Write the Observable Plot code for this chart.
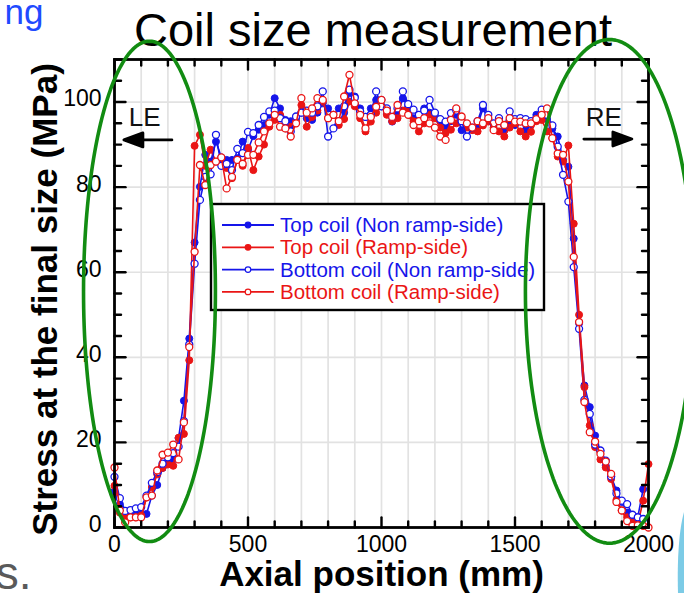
<!DOCTYPE html>
<html>
<head>
<meta charset="utf-8">
<script src="https://cdn.jsdelivr.net/npm/d3@7"></script>
<script src="https://cdn.jsdelivr.net/npm/@observablehq/plot@0.6"></script>
<style>
  html, body { margin: 0; padding: 0; background: #fff; }
  #chart { position: relative; width: 684px; height: 593px; overflow: hidden; }
</style>
</head>
<body>
<div id="chart"></div>
<script>
// Axial measurement positions along the coil (mm)
const axialPositions = [
  0, 20, 40, 60, 80, 100, 120, 140, 160, 180,
  200, 220, 240, 260, 280, 300, 320, 340, 360, 380,
  400, 420, 440, 460, 480, 500, 520, 540, 560, 580,
  600, 620, 640, 660, 680, 700, 720, 740, 760, 780,
  800, 820, 840, 860, 880, 900, 920, 940, 960, 980,
  1000, 1020, 1040, 1060, 1080, 1100, 1120, 1140, 1160, 1180,
  1200, 1220, 1240, 1260, 1280, 1300, 1320, 1340, 1360, 1380,
  1400, 1420, 1440, 1460, 1480, 1500, 1520, 1540, 1560, 1580,
  1600, 1620, 1640, 1660, 1680, 1700, 1720, 1740, 1760, 1780,
  1800, 1820, 1840, 1860, 1880, 1900, 1920, 1940, 1960, 1980,
  2000
];

// Stress at the final size (MPa)
const topNonRamp = [
  8.5, 5.5, 3.5, 3.0, 3.0, 3.2, 3.2, 7.5, 10.0, 14.0,
  15.5, 16.0, 21.0, 29.8, 44.4, 67.0, 80.1, 87.6, 86.0, 90.7,
  87.0, 86.4, 86.4, 86.8, 90.7, 88.8, 92.0, 93.5, 94.6, 97.0,
  100.9, 98.5, 95.8, 95.5, 96.2, 97.5, 96.2, 95.8, 97.5, 99.7,
  98.5, 97.0, 98.5, 97.5, 102.1, 101.3, 98.5, 96.5, 98.5, 100.5,
  100.5, 97.4, 95.4, 97.0, 100.9, 99.0, 96.2, 97.0, 98.5, 97.5,
  96.8, 95.5, 94.2, 95.5, 97.0, 93.4, 94.5, 93.5, 94.6, 98.5,
  96.0, 94.8, 95.5, 93.4, 95.0, 94.6, 95.5, 93.4, 94.8, 97.0,
  97.2, 96.0, 93.8, 91.9, 86.4, 84.8, 67.9, 48.0, 33.4, 28.3,
  21.6, 18.0, 14.5, 12.0, 8.7, 6.0, 3.5, 2.0, 2.5, 9.0,
  null
];
const topRamp = [
  9.8, 3.5, 2.4, 2.4, 2.4, 2.8, 7.1, 9.5, 12.5, 14.0,
  14.8, 14.5, 21.1, 22.0, 39.3, 89.7, 92.3, 85.0, 88.8, 86.0,
  86.8, 84.5, 82.1, 86.4, 85.0, 89.2, 84.0, 87.2, 90.0, 94.2,
  95.8, 97.0, 93.8, 94.2, 95.5, 99.3, 94.2, 96.5, 98.0, 100.1,
  96.2, 97.0, 94.6, 96.0, 100.1, 99.0, 96.2, 93.1, 95.4, 97.5,
  99.0, 97.0, 95.5, 96.2, 98.0, 98.5, 95.5, 93.1, 95.0, 97.0,
  96.2, 94.0, 92.7, 93.5, 95.0, 96.2, 94.0, 93.4, 93.1, 94.5,
  95.4, 94.0, 93.1, 91.9, 94.0, 95.0, 93.1, 91.9, 93.0, 95.5,
  95.8, 93.1, 91.5, 87.2, 86.0, 89.8, 71.4, 50.0, 33.0, 24.0,
  18.9, 16.0, 14.1, 11.4, 6.5, 4.0, 2.4, 1.5, 0.8, 6.3,
  14.9
];
const bottomNonRamp = [
  11.9, 6.9, 3.9, 4.1, 4.5, 4.8, 7.5, 10.5, 13.0, 15.0,
  16.5, 17.5, 19.0, 25.0, 43.0, 62.0, 77.0, 82.4, 83.0, 92.3,
  85.0, 85.5, 84.0, 89.0, 88.0, 93.0, 92.7, 94.6, 96.5, 97.8,
  98.0, 96.2, 95.5, 93.1, 96.6, 97.5, 98.0, 97.5, 99.0, 102.5,
  91.9, 93.8, 97.0, 99.0, 102.9, 101.0, 97.8, 96.5, 97.0, 102.5,
  99.0, 98.5, 96.5, 98.5, 102.5, 99.5, 98.2, 97.0, 98.0, 100.5,
  97.5, 96.0, 95.4, 97.4, 98.0, 95.5, 91.9, 94.0, 95.5, 99.3,
  97.0, 95.0, 96.2, 94.5, 97.8, 96.0, 96.2, 96.0, 95.5, 96.2,
  98.2, 97.0, 94.5, 89.5, 82.9, 76.6, 61.2, 46.7, 30.0, 26.7,
  19.5, 18.1, 15.7, 12.0, 8.0, 6.3, 5.5, 3.0, 2.4, 2.0,
  null
];
const bottomRamp = [
  14.1, 4.0, 1.2, 2.4, 2.4, 2.4, 7.1, 7.5, 13.4, 17.1,
  17.6, 19.5, 16.0, 24.7, 42.4, 64.8, 85.2, 80.5, 85.2, 86.0,
  87.0, 79.7, 82.4, 86.4, 85.5, 87.6, 87.6, 90.5, 93.1, 95.0,
  97.0, 94.2, 93.8, 91.9, 95.0, 100.9, 97.5, 98.5, 100.9, 100.5,
  96.2, 97.0, 95.5, 101.3, 106.4, 99.7, 97.0, 93.8, 96.5, 98.9,
  100.5, 98.0, 96.5, 99.3, 97.5, 97.0, 94.6, 95.5, 96.2, 95.0,
  94.0, 91.9, 91.1, 95.8, 98.5, 96.6, 95.0, 94.0, 95.5, 95.0,
  96.2, 93.4, 95.5, 94.6, 96.2, 95.4, 95.4, 95.0, 95.0, 96.0,
  97.0, 98.5, 91.5, 87.9, 87.6, 81.3, 63.6, 48.3, 29.5, 22.4,
  20.2, 17.3, 15.5, 12.6, 6.0, 4.0, 1.5, 0.4, 0.5, 0.4,
  0.0
];

const seriesNames = [
  "Top coil (Non ramp-side)",
  "Top coil (Ramp-side)",
  "Bottom coil (Non ramp-side)",
  "Bottom coil (Ramp-side)"
];

// Axis ticks and labels
const xTickLabels = [0, 500, 1000, 1500, 2000];
const yTickLabels = [0, 20, 40, 60, 80, 100];
const xTitle = "Axial position (mm)";
const yTitle = "Stress at the final size (MPa)";
const chartTitle = "Coil size measurement";

// Coil-end markers and highlighted end regions (data units)
const endMarks = [
  {label: "LE", textX: 113, textY: 96.3, tailX: 215, tailY: 91.1, rotate: -90},
  {label: "RE", textX: 1833, textY: 96.3, tailX: 1758, tailY: 91.3, rotate: 90}
];
const endRegions = [
  {cx: 131, cy: 55.5, rx: 247, ry: 58.8},
  {cx: 1854, cy: 55.5, rx: 315, ry: 59.2}
];

// ---- styling ----
const BLUE = "#1515ea";
const RED = "#ea1515";
const GREEN = "#128c12";
const FONT = "'Liberation Sans', Arial, Helvetica, sans-serif";

const series = [
  {name: seriesNames[0], values: topNonRamp, color: BLUE, filled: true},
  {name: seriesNames[1], values: topRamp, color: RED, filled: true},
  {name: seriesNames[2], values: bottomNonRamp, color: BLUE, filled: false},
  {name: seriesNames[3], values: bottomRamp, color: RED, filled: false}
];
const rowsOf = (s) => axialPositions
  .map((x, i) => ({x, y: s.values[i]}))
  .filter((d) => d.y != null);

// Tick positions
const xTicksMinor = d3.range(0, 2001, 100).filter((v) => v % 500 !== 0);
const xTicksMajor = xTickLabels;
const yTicksMinor = d3.range(0, 111, 5).filter((v) => v % 20 !== 0);
const yTicksMajor = d3.range(0, 111, 20);
const xGrid = d3.range(100, 2000, 100);
const yGrid = d3.range(20, 110, 20);

// Inward tick: a straight segment along the vector direction
const tickShape = {draw(ctx, l) { ctx.moveTo(0, 0); ctx.lineTo(0, -l); }};
// Arrow with solid triangular head
const arrowShape = {draw(ctx, l) {
  const hl = 19, hw = 7;
  ctx.moveTo(0, 0); ctx.lineTo(0, -l + hl);
  ctx.moveTo(0, -l); ctx.lineTo(-hw, -l + hl); ctx.lineTo(hw, -l + hl); ctx.closePath();
}};

function ticks(values, x, y, rotate, length) {
  return Plot.vector(values, {
    x: x === null ? (d) => d : () => x,
    y: y === null ? (d) => d : () => y,
    rotate, length, anchor: "start", shape: tickShape,
    stroke: "black", strokeWidth: 2.4
  });
}

// Ellipse outlines for the end regions
const ellipsePoints = endRegions.flatMap((e, k) =>
  d3.range(0, 361, 2).map((a) => ({
    k,
    x: e.cx + e.rx * Math.cos(a * Math.PI / 180),
    y: e.cy + e.ry * Math.sin(a * Math.PI / 180)
  }))
);

// Legend drawn inside the frame
function legendMark() {
  const g = d3.create("svg:g");
  const x0 = 211, y0 = 204, w = 333, h = 106;
  g.append("rect").attr("x", x0).attr("y", y0).attr("width", w).attr("height", h)
    .attr("fill", "white").attr("stroke", "black").attr("stroke-width", 2.4);
  series.forEach((s, i) => {
    const yy = 225 + i * 22.3;
    g.append("line").attr("x1", 222).attr("x2", 274).attr("y1", yy).attr("y2", yy)
      .attr("stroke", s.color).attr("stroke-width", 1.8);
    g.append("circle").attr("cx", 248).attr("cy", yy).attr("r", 2.8)
      .attr("fill", s.filled ? s.color : "white").attr("stroke", s.color).attr("stroke-width", 1.2);
    g.append("text").attr("x", 280).attr("y", yy + 7)
      .attr("text-anchor", "start")
      .attr("fill", s.color).attr("font-size", 20.5).attr("font-family", FONT)
      .text(s.name);
  });
  return g.node();
}

// Slide fragments around the chart
function slideFragments() {
  const g = d3.create("svg:g");
  g.append("path")
    .attr("d", "M684,512 C679,530 677,560 678,593 L684,593 Z")
    .attr("fill", "#7ccbe6");
  return g.node();
}

const seriesMarks = series.flatMap((s) => {
  const rows = rowsOf(s);
  return [
    Plot.line(rows, {x: "x", y: "y", stroke: s.color, strokeWidth: 1.6}),
    Plot.dot(rows, {x: "x", y: "y", r: 3.5,
      fill: s.filled ? s.color : "white", stroke: s.color, strokeWidth: s.filled ? 1 : 1.3})
  ];
});

const chart = Plot.plot({
  width: 684,
  height: 593,
  marginLeft: 114,
  marginRight: 36,
  marginTop: 59,
  marginBottom: 66,
  x: {domain: [0, 2000]},
  y: {domain: [0, 110]},
  style: {fontFamily: FONT, color: "black", background: "white", overflow: "visible"},
  marks: [
    Plot.ruleX(xGrid, {stroke: "#e2e2e2", strokeWidth: 1.7}),
    Plot.ruleY(yGrid, {stroke: "#e2e2e2", strokeWidth: 1.7}),
    legendMark,
    ...seriesMarks,
    Plot.frame({stroke: "black", strokeWidth: 2.8}),
    // bottom / top ticks
    ticks(xTicksMinor, null, 0, 0, 6),
    ticks(xTicksMajor, null, 0, 0, 10),
    ticks(xTicksMinor, null, 110, 180, 6),
    ticks(xTicksMajor, null, 110, 180, 10),
    // left / right ticks
    ticks(yTicksMinor, 0, null, 90, 6.5),
    ticks(yTicksMajor, 0, null, 90, 11),
    ticks(yTicksMinor, 2000, null, -90, 6.5),
    ticks(yTicksMajor, 2000, null, -90, 11),
    Plot.axisX(xTickLabels, {tickSize: 0, tickPadding: 8, fontSize: 23, label: null,
      tickFormat: (d) => `${d}`}),
    Plot.axisY(yTickLabels, {tickSize: 0, tickPadding: 13, fontSize: 23, dy: -3, label: null,
      tickFormat: (d) => `${d}`}),
    Plot.text([xTitle], {frameAnchor: "bottom", text: (d) => d, dy: 47, fontSize: 35,
      fontWeight: "bold", textAnchor: "middle", lineAnchor: "middle"}),
    Plot.text([yTitle], {frameAnchor: "left", text: (d) => d, rotate: -90, dx: -69, dy: 6,
      fontSize: 35, fontWeight: "bold", textAnchor: "middle", lineAnchor: "middle"}),
    Plot.text([chartTitle], {frameAnchor: "top", text: (d) => d, dx: -8.5, dy: -28.5,
      fontSize: 47, textAnchor: "middle", lineAnchor: "middle"}),
    Plot.text(["ng"], {frameAnchor: "top-left", text: (d) => d, dx: -71, dy: -60,
      fontSize: 35, fill: "#1f4bff", textAnchor: "end", lineAnchor: "top"}),
    Plot.text(["s."], {frameAnchor: "bottom-left", text: (d) => d, dx: -83, dy: 47,
      fontSize: 46, fill: "#5a5a5a", textAnchor: "end", lineAnchor: "middle"}),
    slideFragments,
    // coil-end labels and arrows
    Plot.text(endMarks, {x: "textX", y: "textY", text: "label", fontSize: 26, fill: "#111"}),
    Plot.vector(endMarks, {x: "tailX", y: "tailY", rotate: "rotate", length: 48, anchor: "start",
      shape: arrowShape, stroke: "black", fill: "black", strokeWidth: 2.8}),
    // highlighted end regions
    Plot.line(ellipsePoints, {x: "x", y: "y", z: "k", stroke: GREEN, strokeWidth: 3.6})
  ]
});

document.getElementById("chart").appendChild(chart);
</script>
</body>
</html>
